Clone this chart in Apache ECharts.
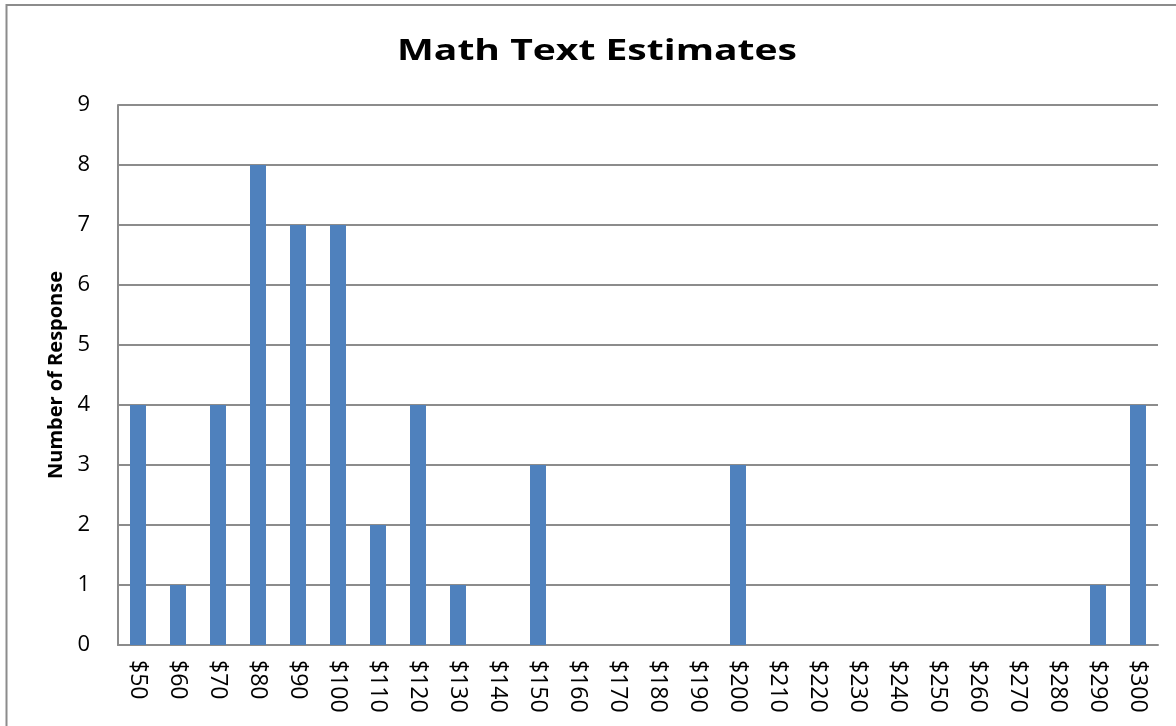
<!DOCTYPE html>
<html>
<head>
<meta charset="utf-8">
<script src="https://cdn.jsdelivr.net/npm/echarts@6/dist/echarts.min.js"></script>
<style>
  html, body { margin: 0; padding: 0; background: #fff; }
  #chart { width: 1176px; height: 726px; }
</style>
</head>
<body>
<div id="chart"></div>
<script>
// Price estimates ($50 to $300 in steps of $10) and how many responses gave each
const categories = ['$50', '$60', '$70', '$80', '$90', '$100', '$110', '$120', '$130', '$140',
  '$150', '$160', '$170', '$180', '$190', '$200', '$210', '$220', '$230', '$240',
  '$250', '$260', '$270', '$280', '$290', '$300'];
const responses = [4, 1, 4, 8, 7, 7, 2, 4, 1, 0,
  3, 0, 0, 0, 0, 3, 0, 0, 0, 0,
  0, 0, 0, 0, 1, 4];
const titleText = 'Math Text Estimates';
const yAxisTitle = 'Number of Response';

const font = '"Open Sans", Lato, sans-serif';

// Title is drawn a little wide: measure its natural width and stretch it to the target width
const titleFontSize = 29;
const titleTargetWidth = 400;
const measureCtx = document.createElement('canvas').getContext('2d');
measureCtx.font = 'bold ' + titleFontSize + 'px ' + font;
const titleScaleX = titleTargetWidth / measureCtx.measureText(titleText).width;

const chart = echarts.init(document.getElementById('chart'), null, { renderer: 'canvas' });

chart.setOption({
  animation: false,
  backgroundColor: '#ffffff',
  graphic: [
    {
      type: 'rect',
      shape: { x: 6.5, y: 5, width: 1300, height: 900 },
      style: { fill: 'none', stroke: '#8c8c8c', lineWidth: 2 },
      silent: true,
      z: 0
    },
    {
      type: 'text',
      x: 597,
      y: 52,
      scaleX: titleScaleX,
      style: {
        text: titleText,
        fontFamily: font,
        fontWeight: 'bold',
        fontSize: titleFontSize,
        fill: '#000',
        align: 'center',
        verticalAlign: 'middle'
      },
      silent: true,
      z: 10
    }
  ],
  grid: { left: 118, right: 18, top: 105, bottom: 81, containLabel: false },
  xAxis: {
    type: 'category',
    data: categories,
    axisLine: { show: true, lineStyle: { color: '#8c8c8c', width: 2 } },
    axisTick: { show: false },
    axisLabel: {
      rotate: -90,
      interval: 0,
      margin: 15,
      fontFamily: font,
      fontSize: 23,
      color: '#000'
    }
  },
  yAxis: {
    type: 'value',
    min: 0,
    max: 9,
    interval: 1,
    name: yAxisTitle,
    nameLocation: 'middle',
    nameGap: 51,
    nameTextStyle: { fontFamily: font, fontWeight: 'bold', fontSize: 20, color: '#000' },
    axisLine: { show: true, lineStyle: { color: '#8c8c8c', width: 2 } },
    axisTick: { show: false },
    splitLine: { show: true, lineStyle: { color: '#8c8c8c', width: 2 } },
    axisLabel: { fontFamily: font, fontSize: 22, color: '#000', margin: 28 }
  },
  series: [{
    type: 'bar',
    data: responses,
    barWidth: '40%',
    itemStyle: { color: '#4f81bd' }
  }]
});
</script>
</body>
</html>
